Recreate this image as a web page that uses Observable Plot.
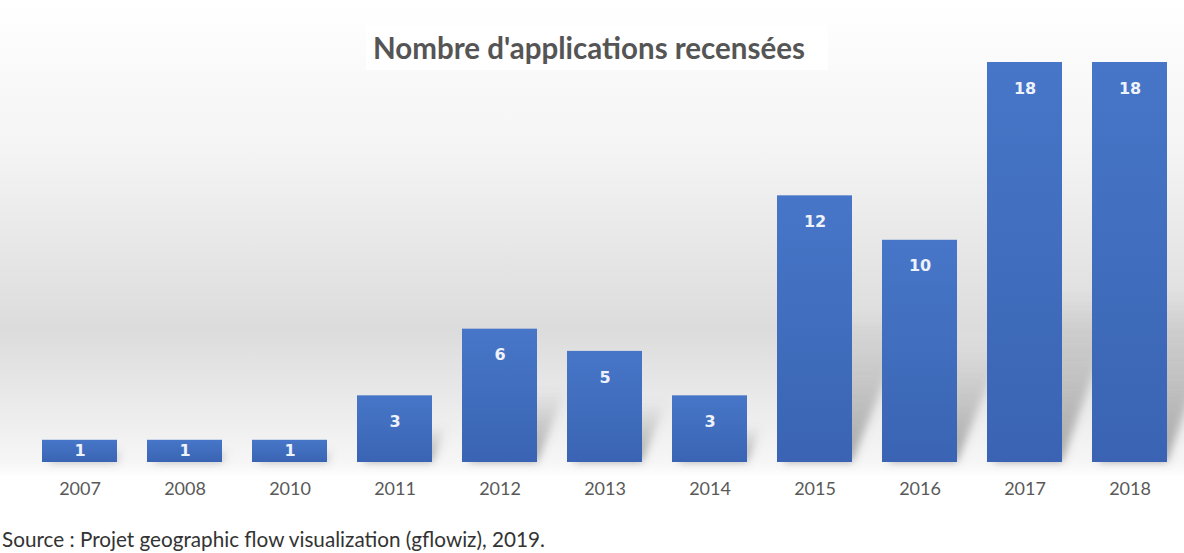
<!DOCTYPE html>
<html>
<head>
<meta charset="utf-8">
<script src="https://cdn.jsdelivr.net/npm/d3@7"></script>
<script src="https://cdn.jsdelivr.net/npm/@observablehq/plot@0.6"></script>
<style>
  html, body { margin: 0; padding: 0; background: #fff; }
  #wrap { position: relative; width: 1184px; height: 553px; overflow: hidden; }
  #chart {
    position: absolute; left: 0; top: 0; width: 1184px; height: 515px;
    background: linear-gradient(to bottom, #ffffff 0px, #f4f4f4 150px, #dcdcdc 330px, #f6f6f6 462px, #ffffff 478px);
  }
  #title {
    position: absolute; left: 366px; top: 25px; width: 446px; padding-right: 16px; height: 45px;
    line-height: 45px; text-align: center; background: #ffffff;
    font-family: Lato, "Open Sans", sans-serif; font-weight: 700; font-size: 29.5px; color: #555555;
  }
  #caption {
    position: absolute; left: 2px; top: 526px;
    font-family: Lato, "Open Sans", sans-serif; font-size: 20.7px; color: #333333; line-height: 26px;
  }
</style>
</head>
<body>
<div id="wrap">
  <div id="chart"></div>
  <div id="title">Nombre d'applications recensées</div>
  <div id="caption">Source : Projet geographic flow visualization (gflowiz), 2019.</div>
</div>
<script>
const years = ["2007", "2008", "2010", "2011", "2012", "2013", "2014", "2015", "2016", "2017", "2018"];
const counts = [1, 1, 1, 3, 6, 5, 3, 12, 10, 18, 18];

const data = years.map((y, i) => ({year: y, count: counts[i]}));

const defs = () => {
  const d = d3.create("svg:defs");
  const g = d.append("linearGradient").attr("id", "barGrad").attr("x1", 0).attr("y1", 0).attr("x2", 0).attr("y2", 1);
  g.append("stop").attr("offset", "0%").attr("stop-color", "#4776c8");
  g.append("stop").attr("offset", "100%").attr("stop-color", "#3a64b3");
  const s = d.append("linearGradient").attr("id", "shadowGrad").attr("x1", 0).attr("y1", 1).attr("x2", 0).attr("y2", 0);
  s.append("stop").attr("offset", "0%").attr("stop-color", "#666").attr("stop-opacity", 0.55);
  s.append("stop").attr("offset", "100%").attr("stop-color", "#666").attr("stop-opacity", 0);
  const f = d.append("filter").attr("id", "blur").attr("x", "-20%").attr("y", "-20%").attr("width", "140%").attr("height", "140%");
  f.append("feGaussianBlur").attr("stdDeviation", 4);
  return d.node();
};

// soft skewed shadow behind each bar, positioned through the plot's scales
const shadows = (index, scales) => {
  const g = d3.create("svg:g").attr("filter", "url(#blur)");
  const x = scales.x, y = scales.y;
  const bw = x.bandwidth ? x.bandwidth() : 75;
  const y0 = y(0);
  for (const d of data) {
    const xl = x(d.year), xr = xl + bw;
    const h = y0 - y(d.count);
    const dx = Math.min(0.22 * h, 60), dy = Math.min(0.55 * h, 170);
    const pts = [[xl + 6, y0], [xr, y0], [xr + dx, y0 - dy], [xl + 6 + dx, y0 - dy]];
    g.append("polygon").attr("points", pts.map(p => p.join(",")).join(" ")).attr("fill", "url(#shadowGrad)");
  }
  return g.node();
};

const plot = Plot.plot({
  width: 1184,
  height: 515,
  marginLeft: 29,
  marginRight: 5,
  marginTop: 62,
  marginBottom: 53,
  style: {background: "transparent", fontFamily: "Lato, 'Open Sans', sans-serif"},
  x: {domain: years, paddingInner: 0.29, paddingOuter: 0.1, label: null},
  y: {domain: [0, 18], axis: null},
  marks: [
    defs,
    shadows,
    Plot.barY(data, {x: "year", y: "count", fill: "url(#barGrad)"}),
    Plot.text(data.filter(d => d.count > 1), {
      x: "year", y: "count", text: d => String(d.count), dy: 26,
      fill: "#eef2fa", fontWeight: "bold", fontSize: 16, fontFamily: "'DejaVu Sans', sans-serif"
    }),
    Plot.text(data.filter(d => d.count <= 1), {
      x: "year", y: "count", text: d => String(d.count), dy: 11,
      fill: "#eef2fa", fontWeight: "bold", fontSize: 16, fontFamily: "'DejaVu Sans', sans-serif"
    }),
    Plot.axisX({tickSize: 0, tickPadding: 20, fontSize: 18, color: "#595959", label: null})
  ]
});
document.getElementById("chart").appendChild(plot);
</script>
</body>
</html>
